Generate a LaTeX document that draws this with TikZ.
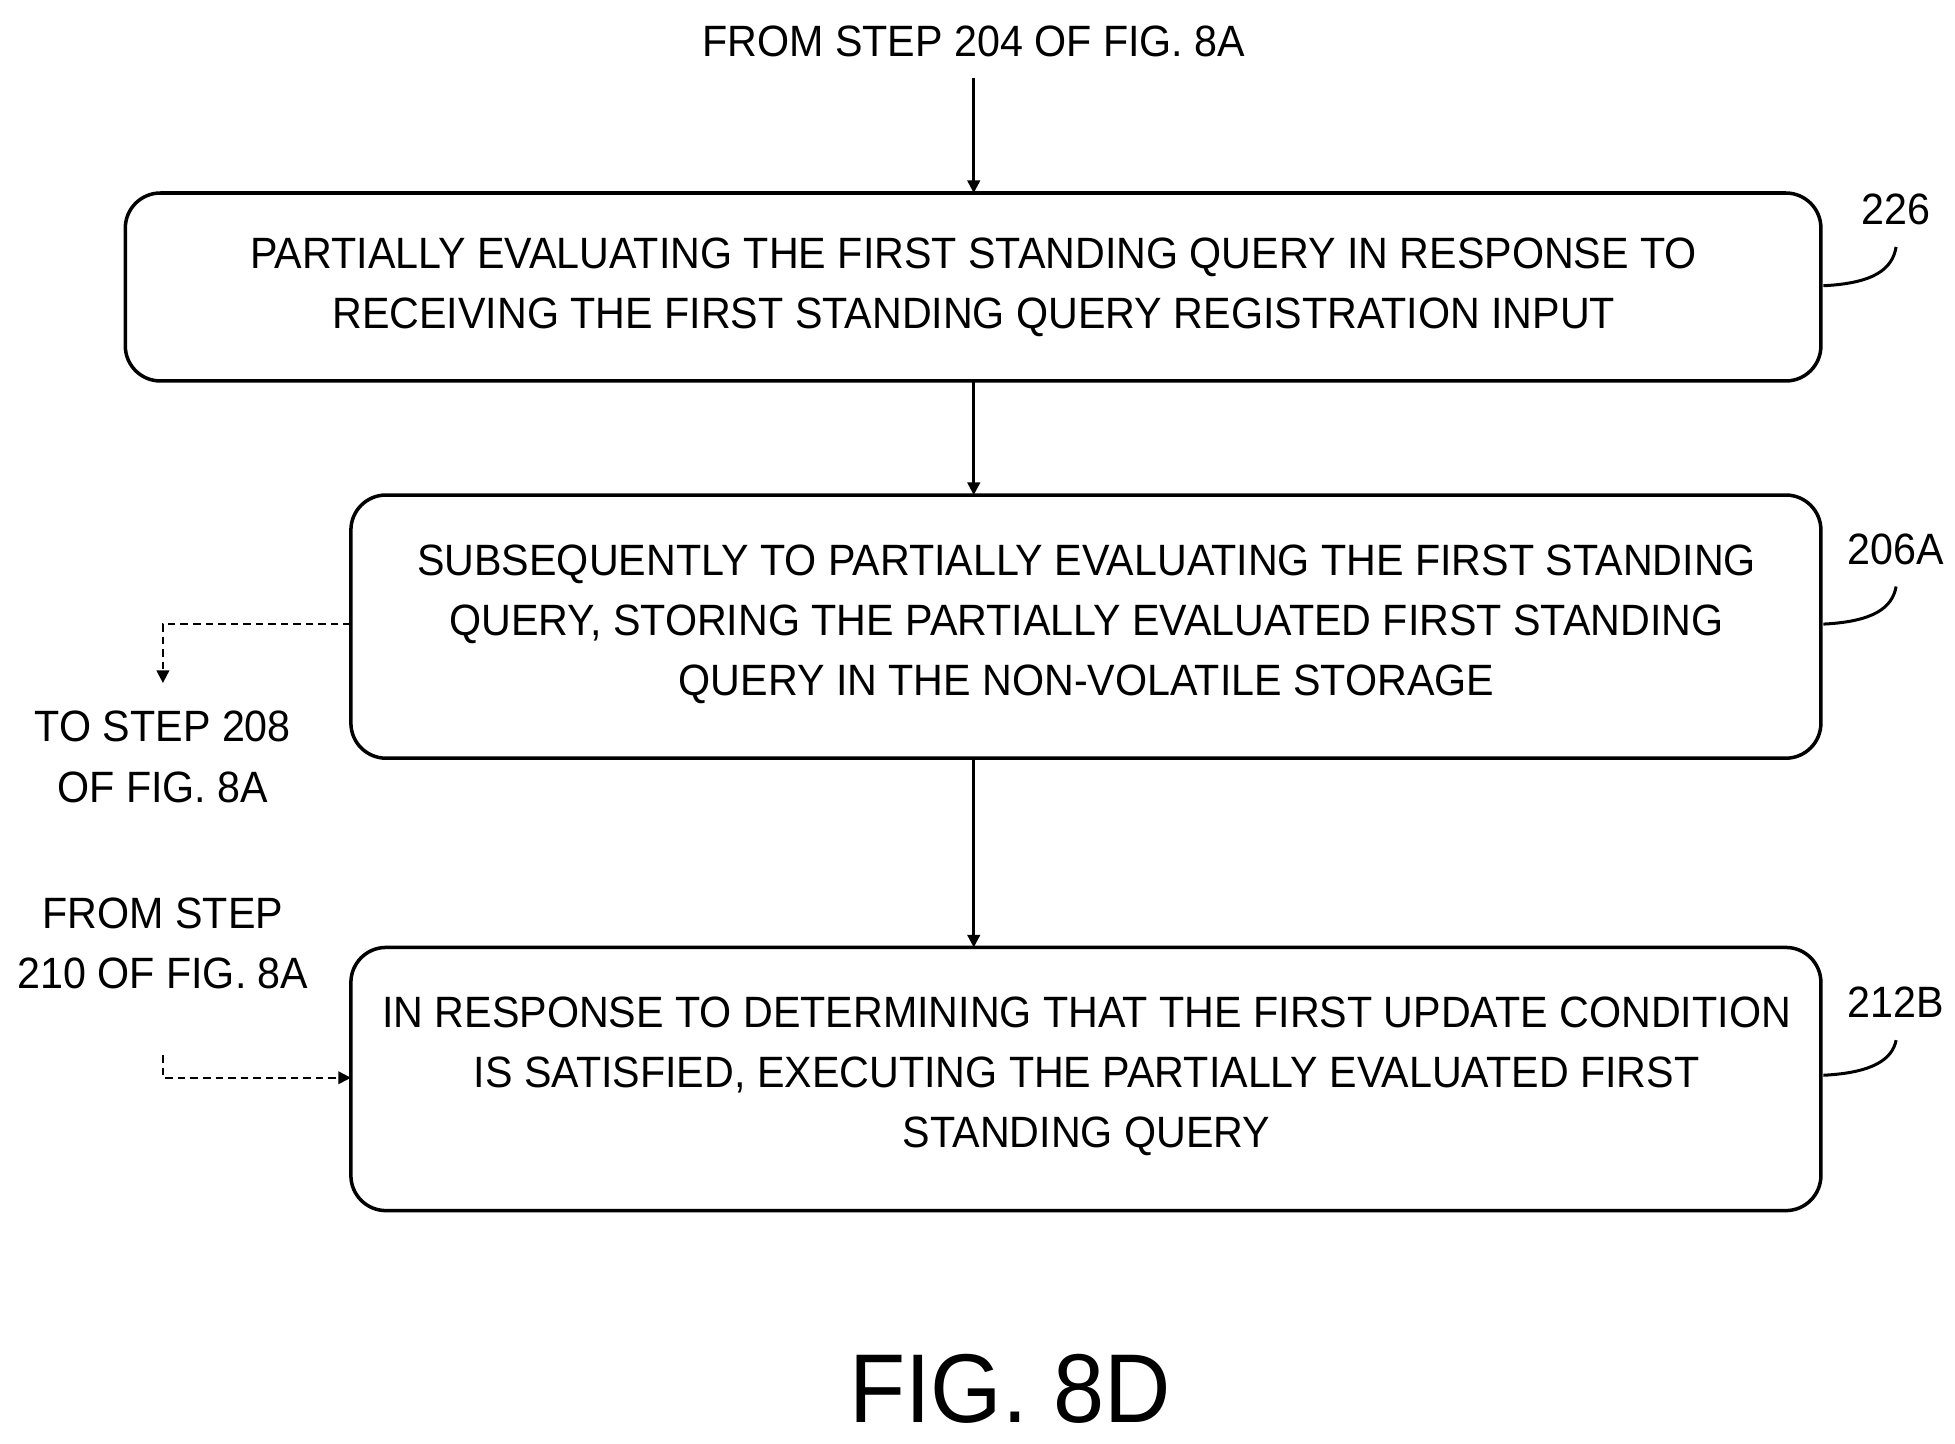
\documentclass[tikz,border=0pt]{standalone}
\usepackage{fontspec}
\setmainfont{Liberation Sans}[FakeStretch=0.94]
\usetikzlibrary{arrows.meta}
\begin{document}
\begin{tikzpicture}[x=0.5pt,y=-0.5pt,
  box/.style={draw,line width=1.4pt,rounded corners=14pt},
  txt/.style={font=\fontsize{17.5}{24}\selectfont,align=center},
  arr/.style={line width=1pt,-{Triangle[length=5pt,width=5pt]}},
  darr/.style={line width=0.8pt,densely dashed,-{Triangle[length=5pt,width=5pt]}},
  lead/.style={line width=1.2pt}]
\useasboundingbox (0,0) rectangle (1560,1152);
\node[txt] (top) at (777,33) {FROM STEP 204 OF FIG. 8A};
\coordinate (topend) at (777,62);
\draw[box] (100,154) rectangle (1453,304);
\node[txt] (b1) at (777,229) {PARTIALLY EVALUATING THE FIRST STANDING QUERY IN RESPONSE TO\\RECEIVING THE FIRST STANDING QUERY REGISTRATION INPUT};
\draw[box] (280,395) rectangle (1453,605);
\node[txt] (b2) at (867,498) {SUBSEQUENTLY TO PARTIALLY EVALUATING THE FIRST STANDING\\QUERY, STORING THE PARTIALLY EVALUATED FIRST STANDING\\QUERY IN THE NON-VOLATILE STORAGE};
\draw[box] (280,756) rectangle (1453,966);
\node[txt] (b3) at (867,859) {IN RESPONSE TO DETERMINING THAT THE FIRST UPDATE CONDITION\\IS SATISFIED, EXECUTING THE PARTIALLY EVALUATED FIRST\\STANDING QUERY};
\coordinate (b1t) at (777,154); \coordinate (b1b) at (777,304);
\coordinate (b2t) at (777,395); \coordinate (b2b) at (777,605);
\coordinate (b3t) at (777,756);
\draw[arr] (topend) -- (b1t);
\draw[arr] (b1b) -- (b2t);
\draw[arr] (b2b) -- (b3t);
\node[txt] (l1) at (1513,167) {226};
\node[txt] (l2) at (1513,438) {206A};
\node[txt] (l3) at (1513,800) {212B};
\draw[lead] (1455,228) .. controls (1495,226) and (1510,215) .. (1513,197);
\draw[lead] (1455,498) .. controls (1495,496) and (1510,485) .. (1513,468);
\draw[lead] (1455,858) .. controls (1495,856) and (1510,845) .. (1513,830);
\coordinate (b2l) at (280,498);
\coordinate (b3l) at (280,860);
\node[txt] (to) at (130,604) {TO STEP 208\\OF FIG. 8A};
\node[txt] (from) at (130,753) {FROM STEP\\210 OF FIG. 8A};
\coordinate (tosa) at (130,545);
\draw[darr] (b2l) -- (130,498) -- (tosa);
\coordinate (froms) at (130,842);
\draw[darr] (froms) -- (130,860) -- (b3l);
\node[font=\fontsize{39}{46}\selectfont] (fig) at (806,1108) {FIG. 8D};
\end{tikzpicture}
\end{document}
